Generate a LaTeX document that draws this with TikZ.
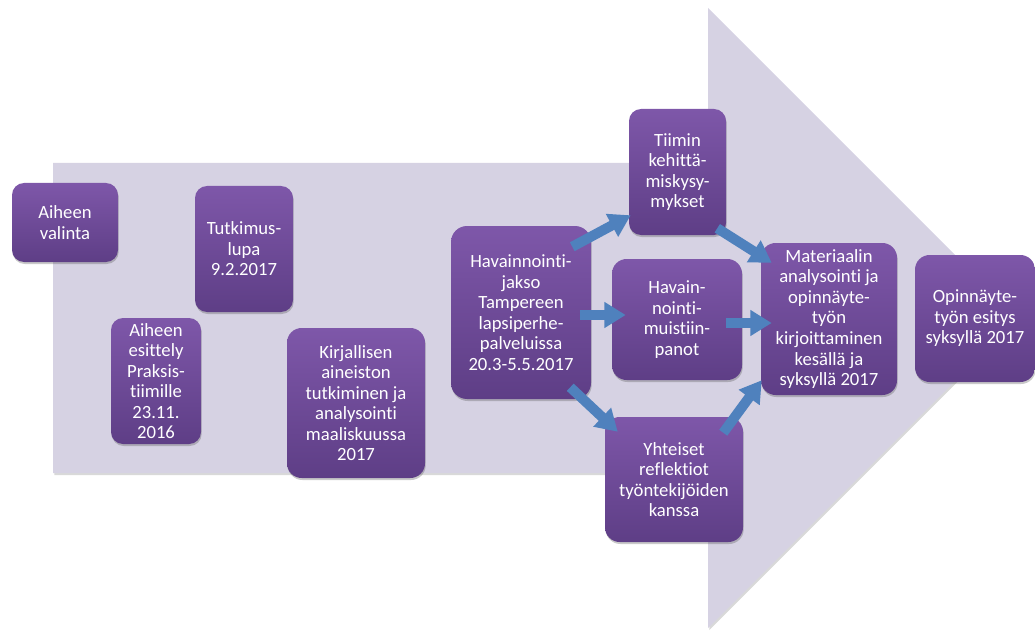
\documentclass[tikz,border=0pt]{standalone}
\usepackage{fontspec}
\setmainfont{Carlito}[Ligatures={NoCommon}]
\usetikzlibrary{shadows,arrows.meta,calc}
\definecolor{shaftc}{HTML}{D6D2E3}
\definecolor{boxtop}{HTML}{7E57A9}
\definecolor{boxbot}{HTML}{5E3E86}
\definecolor{arrc}{HTML}{4F81BD}
\tikzset{
  pbox/.style={rounded corners=9pt, top color=boxtop, bottom color=boxbot,
    text=white, align=center, inner sep=0pt,
    font=\fontsize{14}{15.4}\selectfont,
    drop shadow={shadow xshift=0.5pt, shadow yshift=-1.5pt, opacity=0.3, fill=black!70}},
  barrow/.style={draw=arrc, line width=7.5pt, -{Triangle[width=18.5pt,length=16pt]}}
}
\begin{document}
\begin{tikzpicture}[x=0.75pt,y=-0.75pt]
\useasboundingbox (0,0) rectangle (1035,631);
% big arrow background
\fill[shaftc, drop shadow={shadow xshift=1pt, shadow yshift=-1.5pt, opacity=0.25, fill=black!60}]
  (53,163) -- (708,163) -- (708,8) -- (1018,318) -- (708,628) -- (708,473) -- (53,473) -- cycle;
% boxes
\node[pbox, minimum width=79.5pt, minimum height=59.25pt] (aihe) at (65,222.5) {Aiheen\\valinta};
\node[pbox, minimum width=73.5pt, minimum height=94.5pt] (lupa) at (244,249) {Tutkimus-\\lupa\\9.2.2017};
\node[pbox, minimum width=67.5pt, minimum height=94.5pt] (esit) at (156,381) {Aiheen\\esittely\\Praksis-\\tiimille\\23.11.\\2016};
\node[pbox, minimum width=103.5pt, minimum height=112.5pt, rounded corners=11pt] (kirj) at (356,403) {Kirjallisen\\aineiston\\tutkiminen ja\\analysointi\\maaliskuussa\\2017};
\node[pbox, minimum width=105pt, minimum height=129.75pt, rounded corners=12pt] (hav) at (521,312.5) {Havainnointi-\\jakso\\Tampereen\\lapsiperhe-\\palveluissa\\20.3-5.5.2017};
\node[pbox, minimum width=72.75pt, minimum height=94.5pt] (tii) at (677.5,172) {Tiimin\\kehittä-\\miskysy-\\mykset};
\node[pbox, minimum width=97.5pt, minimum height=90.75pt, rounded corners=11pt] (muist) at (677,319.5) {Havain-\\nointi-\\muistiin-\\panot};
\node[pbox, minimum width=103.5pt, minimum height=93.75pt, rounded corners=11pt] (yht) at (674,479.5) {Yhteiset\\reflektiot\\työntekijöiden\\kanssa};
\node[pbox, minimum width=102pt, minimum height=114pt, rounded corners=11pt] (mat) at (829,319) {Materiaalin\\analysointi ja\\opinnäyte-\\työn\\kirjoittaminen\\kesällä ja\\syksyllä 2017};
\node[pbox, minimum width=90pt, minimum height=95.25pt, rounded corners=11pt] (esitys) at (975,318.5) {Opinnäyte-\\työn esitys\\syksyllä 2017};
% block arrows
\draw[barrow] ($(hav.north east)+(-19,21)$) -- ($(tii.south west)+(2,-20)$);
\draw[barrow] ($(hav.east)+(-11,2.5)$) -- ($(muist.west)+(14,-4.5)$);
\draw[barrow] ($(hav.south east)+(-21,-12)$) -- ($(yht.north west)+(13,15)$);
\draw[barrow] ($(tii.south east)+(-9,-7)$) -- ($(mat.north west)+(11,20)$);
\draw[barrow] ($(muist.east)+(-16,3.5)$) -- ($(mat.west)+(11,4)$);
\draw[barrow] ($(yht.north east)+(-20,16)$) -- ($(mat.south west)+(1,-15)$);
\end{tikzpicture}
\end{document}
